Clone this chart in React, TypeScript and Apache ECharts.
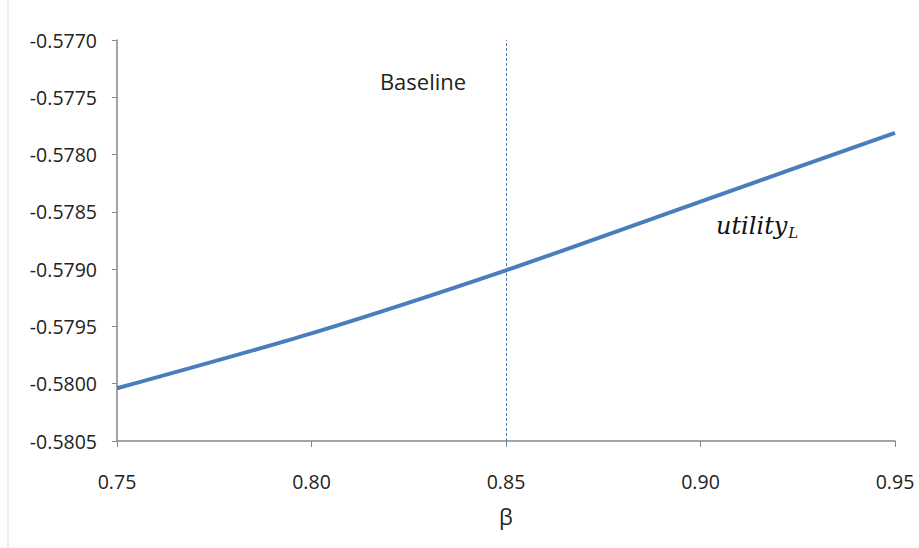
import React, { useEffect, useRef } from "react";
import * as echarts from "echarts";

const betaValues = [0.75, 0.8, 0.85, 0.9, 0.95];
const utilityValues = [-0.58004, -0.57956, -0.57901, -0.57841, -0.57781];
const baselineBeta = 0.85;
const xTicks = ["0.75", "0.80", "0.85", "0.90", "0.95"];

export default function App() {
  const ref = useRef<HTMLDivElement>(null);
  useEffect(() => {
    if (!ref.current) return;
    const chart = echarts.init(ref.current, null, { renderer: "svg" });
    const font = "'Open Sans', 'Noto Sans', sans-serif";
    chart.setOption({
      animation: false,
      backgroundColor: "#ffffff",
      grid: { left: 117, right: 24, top: 40, bottom: 107 },
      xAxis: {
        type: "value",
        min: 0.75,
        max: 0.95,
        interval: 0.05,
        name: "β",
        nameLocation: "middle",
        nameGap: 64,
        nameTextStyle: { fontSize: 22, color: "#222", fontFamily: font },
        axisLine: { lineStyle: { color: "#868686", width: 1.5 } },
        axisTick: { show: true, length: 6, lineStyle: { color: "#868686" } },
        axisLabel: {
          fontSize: 19.5,
          color: "#222",
          fontFamily: font,
          margin: 30,
          formatter: (v: number) => {
            const i = betaValues.findIndex((b) => Math.abs(b - v) < 1e-9);
            return i >= 0 ? xTicks[i] : v.toFixed(2);
          },
        },
        splitLine: { show: false },
      },
      yAxis: {
        type: "value",
        min: -0.5805,
        max: -0.577,
        interval: 0.0005,
        axisLine: { show: true, lineStyle: { color: "#868686", width: 1.5 } },
        axisTick: { show: true, length: 5, lineStyle: { color: "#868686" } },
        axisLabel: {
          fontSize: 19.5,
          color: "#222",
          fontFamily: font,
          margin: 20,
          formatter: (v: number) => v.toFixed(4),
        },
        splitLine: { show: false },
      },
      series: [
        {
          type: "line",
          data: betaValues.map((b, i) => [b, utilityValues[i]]),
          symbol: "none",
          smooth: 0.25,
          lineStyle: { color: "#4A7EBB", width: 4 },
          markLine: {
            silent: true,
            symbol: "none",
            label: { show: false },
            lineStyle: { color: "#4A7EBB", type: [3, 2], width: 1 },
            data: [{ xAxis: baselineBeta }],
          },
        },
      ],
      graphic: [
        {
          type: "line",
          shape: { x1: 8, y1: 0, x2: 8, y2: 548 },
          style: { stroke: "#d9d9d9", lineWidth: 1 },
        },
        {
          type: "text",
          x: 423,
          y: 81,
          style: {
            text: "Baseline",
            fontFamily: font,
            fontSize: 22,
            fill: "#222",
            align: "center",
            verticalAlign: "middle",
          },
        },
        {
          type: "text",
          x: 716,
          y: 226,
          style: {
            text: "{a|utility}{b|L}",
            verticalAlign: "middle",
            rich: {
              a: {
                fontFamily: "'DejaVu Serif', 'Liberation Serif', serif",
                fontStyle: "italic",
                fontSize: 24,
                fill: "#111",
              },
              b: {
                fontFamily: "'DejaVu Serif', 'Liberation Serif', serif",
                fontStyle: "italic",
                fontSize: 15,
                fill: "#111",
                padding: [14, 0, 0, 1],
              },
            },
          },
        },
      ],
    });
    return () => chart.dispose();
  }, []);
  return (
    <div
      ref={ref}
      style={{ position: "absolute", left: 0, top: 0, width: 919, height: 548 }}
    />
  );
}
